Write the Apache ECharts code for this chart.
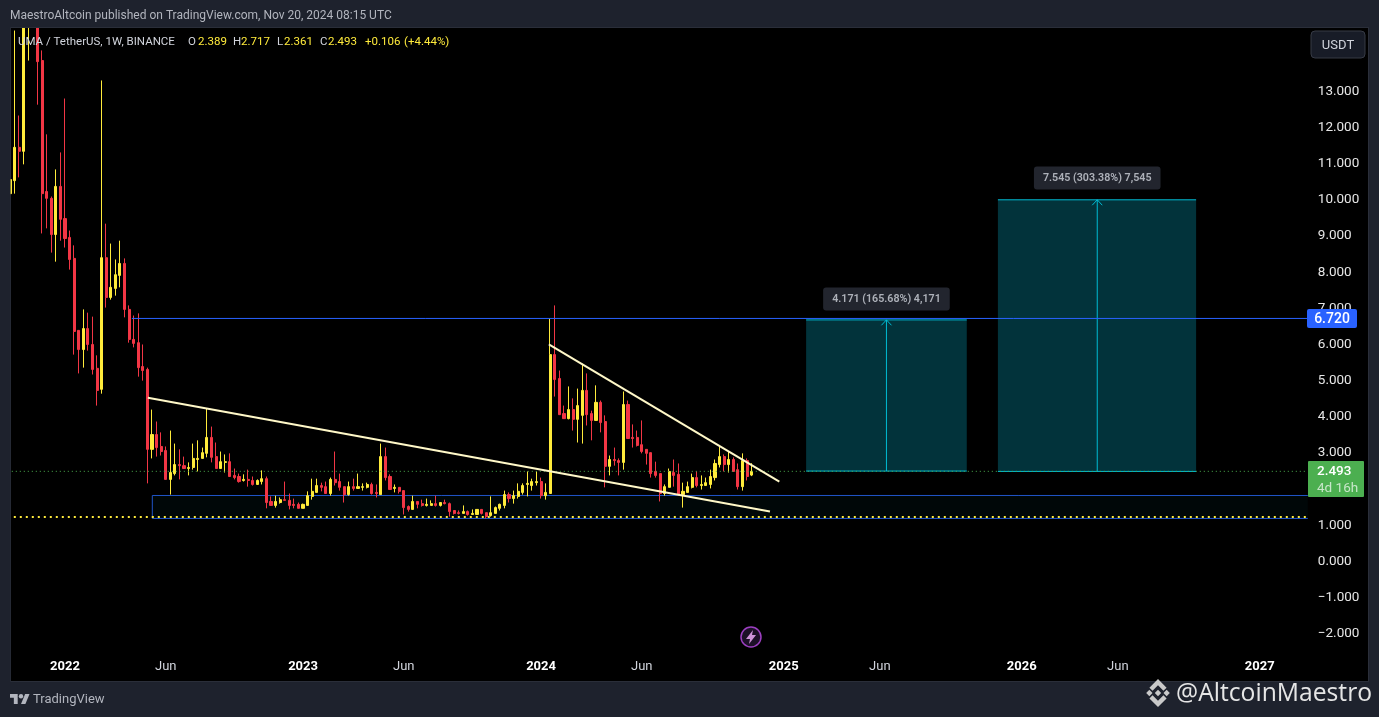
<!DOCTYPE html>
<html>
<head>
<meta charset="utf-8">
<style>html,body{margin:0;padding:0;background:#1e222d}#c{width:1379px;height:717px}</style>
<script src="https://cdn.jsdelivr.net/npm/echarts@6/dist/echarts.min.js"></script>
</head>
<body>
<div id="c"></div>
<script>
const opens = [10.17,10.53,11.45,11.34,15.2,16.8,16.0,13.85,10.23,10.04,9.04,10.37,9.48,8.96,8.38,6.39,5.86,6.44,6.00,5.34,4.76,8.40,7.30,7.55,7.91,8.24,6.97,6.14,6.05,5.39,5.31,3.10,3.51,3.18,3.07,2.27,2.43,2.68,2.65,2.57,2.60,2.82,2.85,2.99,3.43,2.90,2.57,2.74,2.76,2.38,2.35,2.24,2.27,2.24,2.13,2.21,2.29,1.66,1.55,1.63,1.71,1.69,1.58,1.58,1.47,1.55,1.80,1.91,2.10,2.07,1.88,2.27,2.21,2.07,1.85,2.07,2.02,2.05,2.05,2.13,1.91,1.85,2.90,2.35,2.02,2.05,1.96,1.52,1.44,1.66,1.60,1.55,1.55,1.60,1.55,1.63,1.60,1.41,1.35,1.33,1.38,1.30,1.30,1.44,1.35,1.27,1.33,1.47,1.55,1.85,1.74,1.80,1.91,2.13,2.10,2.18,2.21,1.82,1.88,5.72,5.06,4.09,3.95,4.20,3.93,4.04,4.73,4.09,3.90,4.40,3.87,2.63,2.82,2.79,2.74,4.34,3.43,3.43,3.23,3.10,3.01,2.49,2.43,1.88,2.05,2.46,2.41,1.85,1.91,2.05,2.32,2.10,2.10,2.13,2.32,2.68,2.90,2.68,2.82,2.54,2.07,2.79,2.389];
const closes = [10.56,11.45,11.34,15.2,16.5,16.0,13.82,10.17,10.04,9.04,10.37,9.46,8.93,8.35,6.36,5.86,6.44,6.00,5.31,4.73,8.40,7.30,7.58,7.93,8.24,6.97,6.14,6.03,5.36,5.28,3.10,3.51,3.15,3.04,2.27,2.46,2.68,2.65,2.57,2.60,2.85,2.85,3.01,3.43,2.88,2.57,2.76,2.76,2.35,2.32,2.21,2.27,2.24,2.13,2.24,2.29,1.63,1.55,1.66,1.71,1.69,1.55,1.55,1.47,1.58,1.82,1.94,2.10,2.05,1.88,2.27,2.18,2.05,1.85,2.07,2.02,2.07,2.07,2.13,1.88,1.88,2.90,2.32,1.99,2.05,1.94,1.49,1.44,1.66,1.58,1.55,1.58,1.60,1.55,1.63,1.60,1.38,1.33,1.33,1.38,1.30,1.33,1.44,1.33,1.24,1.35,1.49,1.58,1.85,1.74,1.82,1.94,2.10,2.16,2.21,2.21,1.82,1.91,5.72,5.03,4.06,3.95,4.20,3.93,4.31,4.73,4.06,3.90,4.40,3.84,2.63,2.82,2.79,2.74,4.34,3.40,3.40,3.21,3.04,2.99,2.43,2.38,1.88,2.07,2.49,2.38,1.85,1.94,2.07,2.32,2.10,2.13,2.18,2.35,2.71,2.90,2.68,2.82,2.49,2.07,2.79,2.35,2.493];
const lows = [9.48,10.17,10.62,10.98,13.85,15.2,12.63,9.07,9.21,8.54,8.29,8.87,8.68,8.07,5.72,5.20,5.36,5.83,5.17,4.31,4.64,7.02,7.24,7.35,7.58,6.75,6.05,5.92,5.11,5.00,2.16,2.85,2.90,2.93,2.27,1.85,2.38,2.27,2.57,2.38,2.54,2.49,2.85,2.88,2.74,2.57,2.57,2.46,2.35,2.27,2.18,2.21,2.07,2.10,2.13,2.13,1.47,1.55,1.49,1.60,1.69,1.44,1.47,1.47,1.47,1.55,1.71,1.91,1.94,1.88,1.82,2.10,1.96,1.63,1.82,1.96,2.02,1.96,2.02,1.85,1.77,1.85,2.24,1.99,1.91,1.88,1.30,1.38,1.44,1.47,1.52,1.52,1.55,1.52,1.52,1.58,1.24,1.30,1.30,1.33,1.27,1.30,1.30,1.30,1.19,1.24,1.33,1.41,1.47,1.63,1.60,1.74,1.85,1.80,1.96,2.10,1.74,1.71,1.88,4.56,4.06,3.95,3.93,3.62,3.29,3.26,3.76,3.35,3.90,3.57,2.05,2.38,2.65,2.38,2.54,3.40,3.15,3.18,2.99,2.68,2.32,2.32,1.66,1.82,2.05,2.07,1.82,1.49,1.91,2.02,2.05,1.99,2.10,2.02,2.24,2.60,2.49,2.46,2.49,1.99,1.96,2.24,2.361];
const highs = [11.89,14.68,12.33,16,17,17.2,16.5,14.13,11.81,10.09,10.84,11.31,12.80,9.15,8.74,6.39,6.97,6.88,6.77,5.70,13.30,9.34,8.79,8.35,8.87,8.38,7.08,6.80,6.86,6.00,5.36,4.20,3.87,3.57,3.18,3.62,3.26,3.10,2.90,2.74,3.26,3.35,3.15,4.23,3.73,3.29,3.04,2.96,2.99,2.57,2.43,2.41,2.54,2.35,2.27,2.52,2.35,1.80,1.82,1.77,2.21,1.88,1.74,1.63,1.60,1.94,2.29,2.29,2.18,2.21,2.32,3.04,2.43,2.07,2.21,2.29,2.43,2.16,2.18,2.18,2.13,3.26,3.15,2.41,2.13,2.05,1.96,1.55,1.82,1.66,1.71,1.74,1.69,1.82,1.63,1.71,1.63,1.41,1.41,1.55,1.41,1.44,1.44,1.44,1.35,1.80,1.52,1.60,1.96,1.91,1.96,2.16,2.16,2.49,2.29,2.49,2.32,2.16,6.72,7.08,5.28,4.31,4.84,4.51,4.78,5.47,5.20,4.17,4.87,4.45,4.04,2.93,3.15,2.85,4.70,4.45,3.79,3.62,3.90,3.10,3.01,2.76,2.43,2.13,2.57,2.82,2.71,2.18,2.21,2.43,2.49,2.38,2.32,2.54,2.82,3.18,2.96,3.04,2.88,2.71,2.99,2.85,2.717];

const firstWeek = '2021-10-11';
const weekCount = 284;
const xTickLabels = {'2022-01-03':'2022','2022-06-06':'Jun','2023-01-02':'2023','2023-06-05':'Jun','2024-01-01':'2024','2024-06-03':'Jun','2025-01-06':'2025','2025-06-02':'Jun','2026-01-05':'2026','2026-06-01':'Jun','2027-01-04':'2027'};
const yTicks = [-2,-1,0,1,2,3,4,5,6,7,8,9,10,11,12,13];

const lastPrice = 2.493;
const resistance = 6.72;
const dottedSupport = 1.23;
// overlay drawings, x in weeks from firstWeek, y in price
const supportZone = {x0:31.07, x1:283.5, top:1.825, bottom:1.19};
const resistanceStart = 26.6;
const fallingLongLine = [[30.1,4.53],[166.0,1.38]];
const fallingShortLine = [[117.7,6.00],[168.05,2.21]];
const target1 = {x0:173.9, x1:209.0, mid:191.45, base:2.50, top:6.68, text:'4.171 (165.68%) 4,171', labelY:7.257};
const target2 = {x0:215.8, x1:259.1, mid:237.5, base:2.49, top:10.0, text:'7.545 (303.38%) 7,545', labelY:10.60};

const weeks = [];
{
  const d = new Date(firstWeek + 'T00:00:00Z');
  for (let i = 0; i < weekCount; i++) {
    weeks.push(d.toISOString().slice(0,10));
    d.setUTCDate(d.getUTCDate() + 7);
  }
}
const ohlc = opens.map((o,i)=>[o,closes[i],lows[i],highs[i]]);

const FONT = 'Roboto';
const UP = '#ffeb3b', DOWN = '#f23645', CREAM = '#fff8c8', CYAN = '#00bcd4', BLUE = '#2962ff', ZONE = '#2055c8';

function seg(name, pts, color, width, type, z) {
  return {name, type:'line', xAxisIndex:1, yAxisIndex:0, data:pts, symbol:'none', silent:true, z:z||3,
    lineStyle:{color, width, type:type||'solid', cap:'butt'}, animation:false};
}
function boxArea(name, t) {
  return {name, type:'line', xAxisIndex:1, yAxisIndex:0, data:[], symbol:'none', silent:true, z:1, animation:false,
    markArea:{silent:true, itemStyle:{color:'#02333b'}, data:[[{coord:[t.x0,t.top]},{coord:[t.x1,t.base]}]]}};
}
function boxParts(name, t) {
  return [
    boxArea(name+' box', t),
    seg(name+' top', [[t.x0,t.top],[t.x1,t.top]], CYAN, 1),
    seg(name+' base', [[t.x0,t.base],[t.x1,t.base]], CYAN, 1),
    seg(name+' shaft', [[t.mid,t.base],[t.mid,t.top]], CYAN, 1),
    seg(name+' head', [[t.mid-1.1,t.top-0.15],[t.mid,t.top],[t.mid+1.1,t.top-0.15]], CYAN, 1),
    {name:name+' label', type:'scatter', xAxisIndex:1, yAxisIndex:0, symbolSize:1, silent:true, z:6, animation:false,
     itemStyle:{color:'transparent'}, data:[[t.mid,t.labelY]],
     label:{show:true, position:'inside', formatter:t.text, color:'#d1d4dc', fontFamily:FONT, fontSize:10.7, fontWeight:600,
       backgroundColor:'#2a2e39', borderRadius:3, padding:[6,9], lineHeight:11}}
  ];
}

const legendParts = [
  ['UMA / TetherUS, 1W, BINANCE',18,'#d1d4dc'],['O',188,'#d1d4dc'],['2.389',198,UP],['H',233,'#d1d4dc'],['2.717',241,UP],
  ['L',277,'#d1d4dc'],['2.361',284,UP],['C',320,'#d1d4dc'],['2.493',328,UP],['+0.106',365,UP],['(+4.44%)',404,UP]
];
const textEl = (text,x,y,fill,size,extra)=>({type:'text', z:60, silent:true, x, y,
  style:Object.assign({text, fill, font:`${size}px ${FONT}`, textVerticalAlign:'middle'}, extra||{})});
const poly = (pts,fill,z)=>({type:'polygon', z:z||56, silent:true, shape:{points:pts}, style:{fill}});
const bn = pts=>pts.map(p=>[1158+(p[0]-64)*0.215, 693+(p[1]-63.5)*0.215]);
const tv = pts=>pts.map(p=>[10+p[0]*0.55, 694+(p[1]-4)*0.55]);

const graphic = [
  {type:'rect', z:-1, silent:true, shape:{x:11,y:28,width:1357,height:653}, style:{fill:'#000'}},
  {type:'rect', z:50, silent:true, shape:{x:0,y:0,width:10,height:717}, style:{fill:'#1e222d'}},
  {type:'rect', z:50, silent:true, shape:{x:0,y:0,width:1379,height:27}, style:{fill:'#1e222d'}},
  {type:'rect', z:50, silent:true, shape:{x:10,y:27,width:1,height:655}, style:{fill:'rgba(42,46,57,0.6)'}},
  {type:'rect', z:50, silent:true, shape:{x:11,y:27,width:1358,height:1}, style:{fill:'#2a2e39'}},
  {type:'rect', z:50, silent:true, shape:{x:11,y:681,width:1358,height:1}, style:{fill:'#2a2e39'}},
  {type:'rect', z:50, silent:true, shape:{x:1368,y:27,width:1,height:655}, style:{fill:'#2a2e39'}},
  textEl('MaestroAltcoin published on TradingView.com, Nov 20, 2024 08:15 UTC',10,15.5,'#b2b5be',12),
  ...legendParts.map(p=>textEl(p[0],p[1],42,p[2],11.5)),
  {type:'rect', z:55, silent:true, shape:{x:1311,y:31,width:54,height:27,r:4}, style:{fill:'#181c27',stroke:'#363a45',lineWidth:1}},
  textEl('USDT',1338,45.5,'#d1d4dc',13,{textAlign:'center'}),
  {type:'rect', z:55, silent:true, shape:{x:1307,y:309,width:50,height:19,r:2}, style:{fill:BLUE}},
  textEl('6.720',1332,319,'#ffffff',14,{textAlign:'center',font:'500 14px '+FONT}),
  {type:'rect', z:55, silent:true, shape:{x:1308,y:461,width:56,height:36,r:1}, style:{fill:'#4caf50'}},
  textEl(String(lastPrice),1317,472,'#ffffff',13.5,{font:'500 13.5px '+FONT}),
  textEl('4d 16h',1317,488.5,'#c8e6c9',13.5),
  {type:'circle', z:55, silent:true, shape:{cx:751,cy:637,r:10}, style:{fill:'#1c1027',stroke:'#9c3fc0',lineWidth:1.5}},
  poly([[753,630],[746,639],[750,639],[749,644],[756,635],[752,635]],'#ce93d8'),
  poly(tv([[0,4],[14,4],[14,22],[7,22],[7,11],[0,11]]),'#b2b5be'),
  poly(tv([[27.5,4],[35.5,4],[28,22],[20,22]]),'#b2b5be'),
  {type:'circle', z:56, silent:true, shape:{cx:21,cy:696.2,r:2.2}, style:{fill:'#b2b5be'}},
  textEl('TradingView',33,700,'#b2b5be',13),
  poly(bn([[38.73,53.2],[64,27.93],[89.27,53.21],[103.97,38.51],[64,-1.47],[24.03,38.5]]),'#c9c9c9'),
  poly(bn([[38.73,73.8],[64,99.07],[89.27,73.8],[103.97,88.5],[64,128.47],[24.03,88.5]]),'#c9c9c9'),
  poly(bn([[9.06,63.5],[23.76,48.8],[38.46,63.5],[23.76,78.2]]),'#c9c9c9'),
  poly(bn([[89.54,63.5],[104.24,48.8],[118.94,63.5],[104.24,78.2]]),'#c9c9c9'),
  poly(bn([[78.9,63.5],[64,48.6],[49.1,63.5],[64,78.4]]),'#c9c9c9'),
  textEl('@AltcoinMaestro',1176,693.5,'#e6e6e6',24.7,{font:'24.7px "Open Sans"'})
];

const option = {
  animation:false,
  backgroundColor:'#1e222d',
  textStyle:{fontFamily:FONT},
  grid:{left:7.8, width:1300, top:28.5, height:627, containLabel:false},
  xAxis:[
    {type:'category', data:weeks, boundaryGap:true, axisLine:{show:false}, axisTick:{show:false}, splitLine:{show:false},
     axisLabel:{margin:4.5, color:'#d1d4dc', fontFamily:FONT, fontSize:13, hideOverlap:false, showMinLabel:true, showMaxLabel:true,
       interval:(i,v)=>v in xTickLabels,
       formatter:v=>{const t=xTickLabels[v]; if(!t) return ''; return /^\d/.test(t)?`{y|${t}}`:t;},
       rich:{y:{fontWeight:700,fontSize:13,color:'#ffffff',fontFamily:FONT}}}},
    {type:'value', min:-0.5, max:weekCount-0.5, show:false, splitLine:{show:false}}
  ],
  yAxis:[{type:'value', position:'right', min:(561-655)/36.17, max:(561-28)/36.17, scale:true,
    axisLine:{show:false}, axisTick:{show:false}, splitLine:{show:false},
    axisLabel:{customValues:yTicks, margin:10, color:'#e6e6e6', fontFamily:FONT, fontSize:13.5, padding:[3,0,0,0],
      formatter:v=>v.toFixed(3).replace('-','\u2212')}}],
  graphic:{elements:graphic},
  series:[
    {name:'Support zone', type:'line', xAxisIndex:1, yAxisIndex:0, data:[], symbol:'none', silent:true, z:1, animation:false,
     markArea:{silent:true, itemStyle:{color:'rgba(0,188,212,0.04)'},
       data:[[{coord:[supportZone.x0,supportZone.top]},{coord:[supportZone.x1,supportZone.bottom]}]]}},
    seg('Zone edges',[[supportZone.x1,supportZone.top],[supportZone.x0,supportZone.top],[supportZone.x0,supportZone.bottom],[supportZone.x1,supportZone.bottom]],ZONE,1,'solid',1),
    ...boxParts('Target 1',target1),
    ...boxParts('Target 2',target2),
    {name:'UMA / TetherUS', type:'candlestick', data:ohlc, barWidth:2.6, z:2, silent:true,
     itemStyle:{color:UP,color0:DOWN,borderColor:UP,borderColor0:DOWN,borderWidth:1}},
    seg('Resistance',[[resistanceStart,resistance],[weekCount-0.5,resistance]],BLUE,1),
    seg('Last price',[[-0.5,lastPrice],[weekCount-0.5,lastPrice]],'#4caf50',1,[1,3]),
    seg('Support dots',[[-0.5,dottedSupport],[weekCount-0.5,dottedSupport]],UP,2,[2,4],4),
    seg('Falling long line',fallingLongLine,CREAM,2),
    seg('Falling short line',fallingShortLine,CREAM,2)
  ]
};
const chart = echarts.init(document.getElementById('c'),null,{renderer:'canvas'});
chart.setOption(option);
</script>
</body>
</html>
